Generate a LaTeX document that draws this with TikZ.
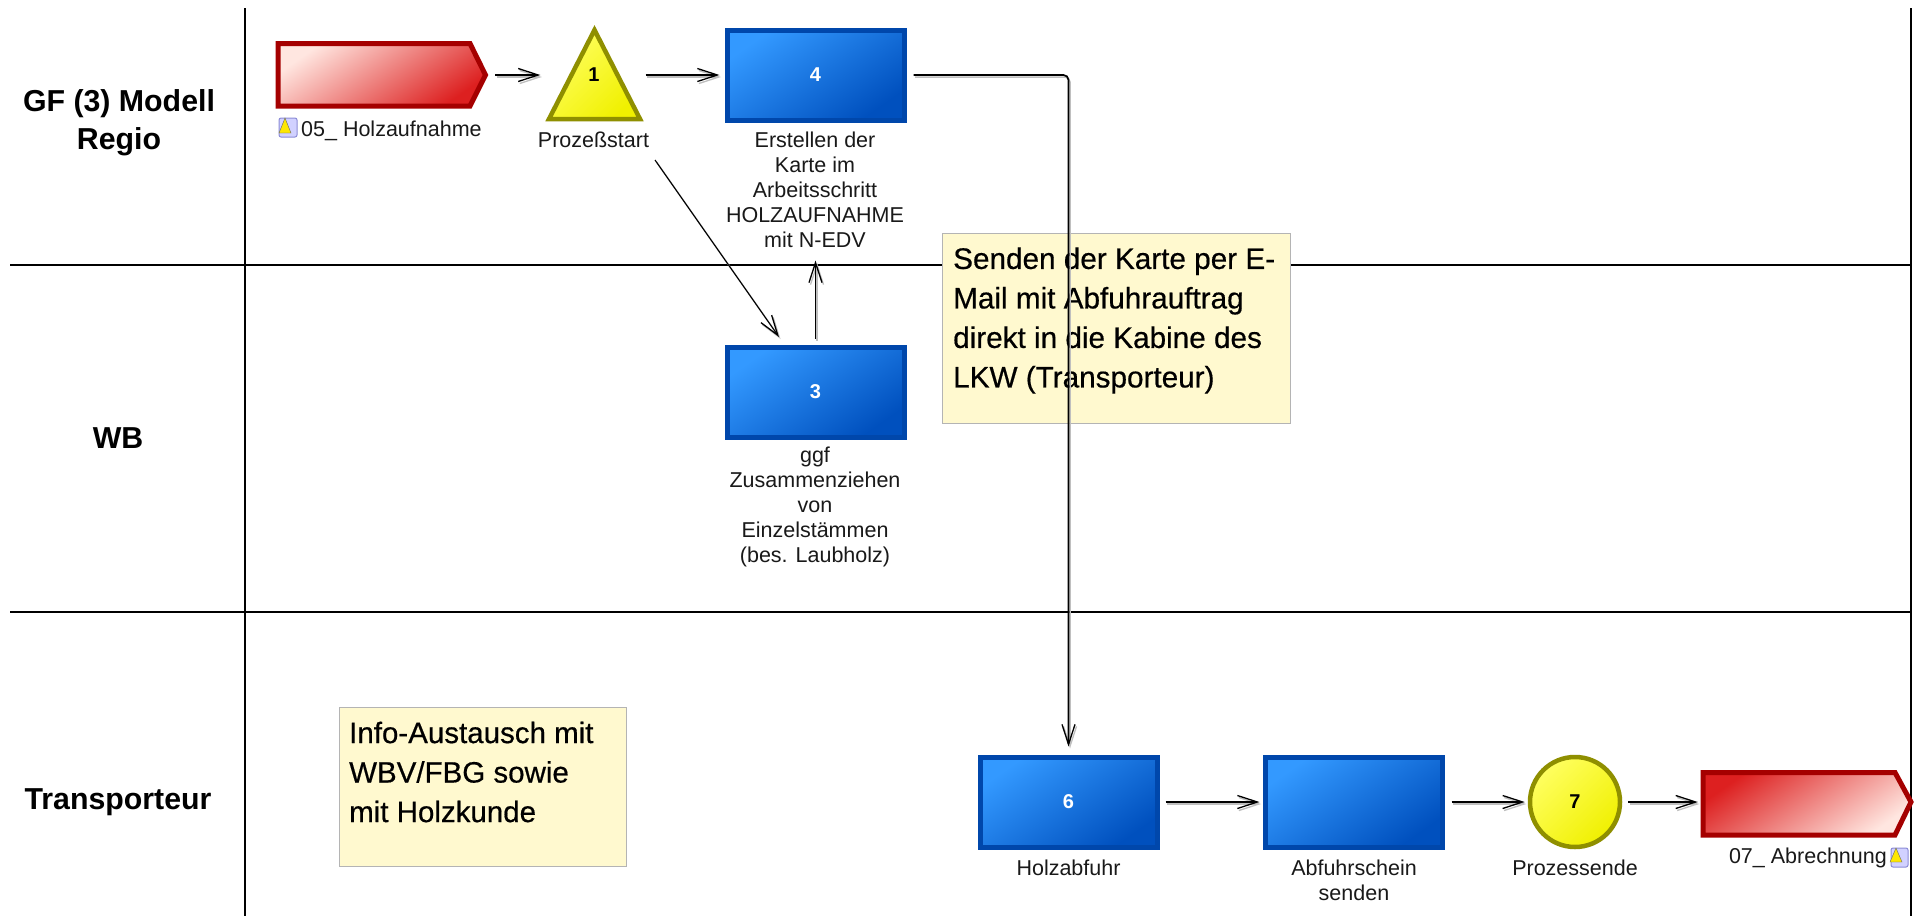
\documentclass[tikz,border=0pt]{standalone}
\usepackage{fontspec}
\setmainfont{Liberation Sans}
\newfontfamily\notefont[FakeBold=0.5]{Liberation Sans}
\usetikzlibrary{arrows.meta,shapes.geometric}
\definecolor{blueedge}{HTML}{0047AB}
\definecolor{bluehi}{HTML}{3399FF}
\definecolor{bluelo}{HTML}{0050BE}
\definecolor{rededge}{HTML}{A50000}
\definecolor{redhi}{HTML}{FFE6E0}
\definecolor{redlo}{HTML}{DD2020}
\definecolor{yeledge}{HTML}{8F8F00}
\definecolor{yelhi}{HTML}{FFFF60}
\definecolor{yello}{HTML}{F0F000}
\definecolor{notefill}{HTML}{FFF9CF}
\definecolor{noteedge}{HTML}{B4B4B4}
\tikzset{
  x=1pt,y=-1pt,
  lane/.style={draw=black,line width=1.4pt},
  blockbox/.style={rectangle,draw=blueedge,line width=5pt,minimum width=177pt,minimum height=90pt,inner sep=0pt,
     shading=axis,left color=bluehi,right color=bluelo,shading angle=35,text=white,font=\fontsize{20}{24}\bfseries\selectfont},
  conn/.style={draw=black,line width=1.7pt,-{Straight Barb[length=20pt,width=13pt,line width=1.3pt]},
     preaction={draw=black!25,line width=1.5pt,transform canvas={shift={(1.5pt,-2pt)}}}},
  lbl/.style={align=center,inner sep=0pt,font=\fontsize{21.5}{25}\selectfont,text=black!90},
  head/.style={align=center,inner sep=0pt,font=\fontsize{30.3}{38}\bfseries\selectfont},
  notebox/.style={rectangle,draw=noteedge,line width=1.4pt,fill=notefill,inner sep=0pt,anchor=north west},
  notetxt/.style={align=left,inner sep=0pt,anchor=west},
  ghost/.style={rectangle,inner sep=0pt},
  num/.style={inner sep=0pt,font=\fontsize{20}{24}\bfseries\selectfont},
  redshape/.style={draw=rededge,line width=5pt,miter limit=4},
  yelshape/.style={draw=yeledge,line width=4.5pt,shading=axis,left color=yelhi,right color=yello,shading angle=45},
  doc/.style={draw=black!35!blue!45,fill=blue!18,line width=1pt,rounded corners=2pt},
  tri/.style={fill=yellow!90!orange,draw=black!60,line width=.4pt},
}
\begin{document}
\begin{tikzpicture}
\useasboundingbox (0,0) rectangle (1914,916);
\fill[white] (0,0) rectangle (1914,916);
% lanes
\draw[lane] (245,8) -- (245,916);
\draw[lane] (10,265) -- (1911,265);
\draw[lane] (10,612) -- (1911,612);
\draw[lane] (1911,8) -- (1911,916);
% headers
\node[head] (h1) at (119,123) {GF (3) Modell\\Regio};
\node[head] (h2) at (118,438) {WB};
\node[head] (h3) at (118,802) {Transporteur};
% red start
\path[redshape,shading=axis,left color=redhi,right color=redlo,shading angle=35]
  (278,43.5) -- (470,43.5) -- (485.5,75) -- (470,106) -- (278,106) -- cycle;
\node[ghost,minimum width=212pt,minimum height=67pt] (start) at (382,75) {};
% doc icon start
\draw[doc] (279,118) rectangle (297,137);
\fill[tri] (279,133) -- (285,118) -- (291,133) -- cycle;
\node[lbl,anchor=west] (startlbl) at (301,131) {05\_ Holzaufnahme};
% triangle
\path[yelshape] (594.5,30) -- (640,119) -- (549,119) -- cycle;
\node[ghost,minimum width=96pt,minimum height=96pt] (t1) at (594.5,75) {};
\node[num] (t1n) at (594,75) {1};
\node[lbl] (t1l) at (593.5,140) {Prozeßstart};
% blue 4
\node[blockbox] (b4) at (815.5,75) {4};
\node[lbl] (b4l) at (815,190) {Erstellen der\\Karte im\\Arbeitsschritt\\HOLZAUFNAHME\\mit N-EDV};
% blue 3
\node[blockbox] (b3) at (815.5,392) {3};
\node[lbl] (b3l) at (815,507) {ggf\\Zusammenziehen\\von\\Einzelstämmen\\(bes. Laubholz)};
% blue 6
\node[blockbox] (b6) at (1068.5,802) {6};
\node[lbl] (b6l) at (1068.5,868) {Holzabfuhr};
% blue blank
\node[blockbox] (b5) at (1353.5,802) {};
\node[lbl] (b5l) at (1354,880) {Abfuhrschein\\senden};
% circle 7
\node[circle,yelshape,minimum size=90pt,inner sep=0pt,font=\fontsize{20}{24}\bfseries\selectfont] (c7) at (1575,802) {7};
\node[lbl] (c7l) at (1575,868) {Prozessende};
% red end
\path[redshape,shading=axis,left color=redlo,right color=redhi,shading angle=35]
  (1703,772.5) -- (1895,772.5) -- (1911,802) -- (1895,835) -- (1703,835) -- cycle;
\node[ghost,minimum width=212pt,minimum height=67pt] (end) at (1807,802) {};
\node[lbl,anchor=east] (endlbl) at (1887,858) {07\_ Abrechnung};
\draw[doc] (1891,848) rectangle (1908,867);
\fill[tri] (1890,862) -- (1896,848) -- (1902,862) -- cycle;
% notes
\node[notebox,minimum width=348pt,minimum height=190pt] (n1) at (942,233) {};
\node[notetxt,font=\fontsize{29.7}{39.5}\notefont] (n1t) at (953,320.5) {Senden der Karte per E-\\Mail mit Abfuhrauftrag\\direkt in die Kabine des\\LKW (Transporteur)};
\node[notebox,minimum width=287pt,minimum height=159pt] (n2) at (339,707) {};
\node[notetxt,font=\fontsize{29.5}{39.5}\notefont] (n2t) at (349,772) {Info-Austausch mit\\WBV/FBG sowie\\mit Holzkunde};
% connectors
\coordinate (d1) at (655,160);
\coordinate (d2) at (779,337);
\draw[conn,shorten <=7pt,shorten >=6pt] (start.east) -- (t1.west);
\draw[conn,shorten <=3pt,shorten >=5pt] (t1.east) -- (b4.west);
\draw[conn,line width=1.1pt] (d1) -- (d2);
\draw[conn,shorten <=6pt,shorten >=138pt] (b3.north) -- (b4.south);
\draw[conn,rounded corners=5pt,shorten <=7pt,shorten >=8pt] (b4.east) -| (b6.north);
\draw[conn,shorten <=6pt,shorten >=3pt] (b6.east) -- (b5.west);
\draw[conn,shorten <=7pt,shorten >=3pt] (b5.east) -- (c7.west);
\draw[conn,shorten <=6pt,shorten >=3pt] (c7.east) -- (end.west);
\end{tikzpicture}
\end{document}
